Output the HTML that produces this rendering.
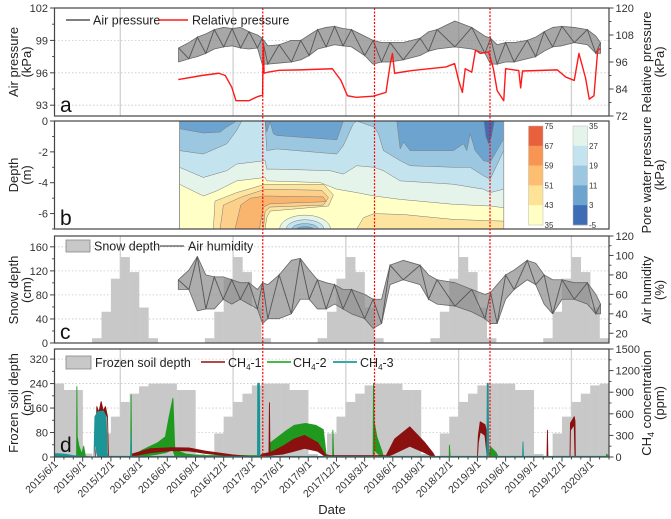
<!DOCTYPE html>
<html><head><meta charset="utf-8">
<style>
html,body{margin:0;padding:0;background:#fff;}
svg{display:block;font-family:"Liberation Sans",Arial,sans-serif;}
</style></head>
<body>
<svg id="chart" width="671" height="519" viewBox="0 0 671 519" xmlns="http://www.w3.org/2000/svg">
  <g id="layer-grid"></g>
  <g id="layer-data"></g>
  <g id="layer-axes"></g>

  <g font-size="12.5" fill="#222">
    <line x1="66" y1="20" x2="90" y2="20" stroke="#555" stroke-width="1.5"/>
    <text x="93" y="24.5">Air pressure</text>
    <line x1="158" y1="20" x2="188" y2="20" stroke="#ff1a1a" stroke-width="1.5"/>
    <text x="192" y="24.5">Relative pressure</text>
  </g>
  <g font-size="12.5" fill="#222">
    <rect x="66" y="240" width="24" height="12" fill="#c8c8c8" stroke="#888" stroke-width="0.8"/>
    <text x="94" y="250.5">Snow depth</text>
    <line x1="160" y1="246" x2="184" y2="246" stroke="#555" stroke-width="1.2"/>
    <text x="188" y="250.5">Air humidity</text>
  </g>
  <g font-size="12.5" fill="#222">
    <rect x="66" y="356" width="25" height="13" fill="#c8c8c8" stroke="#888" stroke-width="0.8"/>
    <text x="95" y="367">Frozen soil depth</text>
    <line x1="201" y1="362" x2="225" y2="362" stroke="#b04a4a" stroke-width="2"/>
    <text x="228" y="367">CH<tspan font-size="8" dy="3">4</tspan><tspan dy="-3">-1</tspan></text>
    <line x1="267" y1="362" x2="291" y2="362" stroke="#4cb84c" stroke-width="2"/>
    <text x="293" y="367">CH<tspan font-size="8" dy="3">4</tspan><tspan dy="-3">-2</tspan></text>
    <line x1="333" y1="362" x2="357" y2="362" stroke="#3aa8a8" stroke-width="2"/>
    <text x="360" y="367">CH<tspan font-size="8" dy="3">4</tspan><tspan dy="-3">-3</tspan></text>
  </g>

  <text x="60" y="112" font-size="21" fill="#111">a</text>
  <text x="60" y="225" font-size="21" fill="#111">b</text>
  <text x="60" y="339" font-size="21" fill="#111">c</text>
  <text x="60" y="452" font-size="21" fill="#111">d</text>

  <g font-size="13" fill="#222" text-anchor="middle">
    <text transform="translate(18,62) rotate(-90)">Air pressure</text>
    <text transform="translate(31,62) rotate(-90)">(kPa)</text>
    <text transform="translate(18,175) rotate(-90)">Depth</text>
    <text transform="translate(31,175) rotate(-90)">(m)</text>
    <text transform="translate(18,290) rotate(-90)">Snow depth</text>
    <text transform="translate(31,290) rotate(-90)">(cm)</text>
    <text transform="translate(18,403) rotate(-90)">Frozen soil depth</text>
    <text transform="translate(31,403) rotate(-90)">(cm)</text>
    <text transform="translate(651,62) rotate(-90)">Relative pressure</text>
    <text transform="translate(664,62) rotate(-90)">(kPa)</text>
    <text transform="translate(651,175) rotate(-90)">Pore water pressure</text>
    <text transform="translate(664,175) rotate(-90)">(kPa)</text>
    <text transform="translate(651,290) rotate(-90)">Air humidity</text>
    <text transform="translate(664,290) rotate(-90)">(%)</text>
    <text transform="translate(651,403) rotate(-90)">CH<tspan font-size="9" dy="3">4</tspan><tspan dy="-3"> concentration</tspan></text>
    <text transform="translate(664,403) rotate(-90)">(ppm)</text>
    <text x="332" y="514">Date</text>
  </g>
</svg>
<script>
const xTickLabels = ["2015/6/1","2015/9/1","2015/12/1","2016/3/1","2016/6/1","2016/9/1","2016/12/1","2017/3/1","2017/6/1","2017/9/1","2017/12/1","2018/3/1","2018/6/1","2018/9/1","2018/12/1","2019/3/1","2019/6/1","2019/9/1","2019/12/1","2020/3/1"];
const eventMonths = [22.16, 34.05, 46.34];
const yearStarts = [7, 19, 31, 43, 55];

const apT  = [13.2,14.3,15.2,16.1,17.0,18.0,18.9,19.8,20.7,21.6,22.1,22.7,23.9,25.2,26.2,27.1,28.0,28.9,29.8,30.7,31.6,33.0,33.9,34.8,35.7,37.1,38.9,39.8,40.7,42.6,44.4,45.8,46.4,47.1,48.0,48.9,50.3,51.2,52.1,53.0,54.0,55.3,56.7,57.6,58.1];
const apHi = [98.3,98.8,99.3,99.6,100.0,100.2,100.1,100.2,99.8,99.5,99.2,98.5,98.6,99.0,99.0,99.5,100.0,100.2,100.3,100.1,100.0,99.4,99.0,98.8,98.8,98.8,99.2,99.8,100.0,100.8,100.2,99.4,99.2,98.6,98.8,98.8,99.0,99.3,99.8,100.2,100.3,100.2,100.0,99.4,98.8];
const apLo = [97.0,97.3,97.5,97.8,98.2,98.4,98.5,98.3,98.2,98.3,96.8,96.8,96.9,97.0,97.2,97.6,98.2,98.4,98.6,98.5,98.4,97.6,96.8,97.0,97.0,97.2,97.6,98.0,98.2,98.4,98.2,97.8,96.8,96.8,97.0,97.0,97.3,97.5,98.0,98.4,98.5,98.8,98.6,97.8,97.8];

const rpT = [13.17,15.67,17.49,18.17,18.86,19.31,20.68,21.6,22.14,22.22,22.3,22.7,23.9,26.15,29.57,30.48,31.17,32.09,33.9,35.27,35.73,35.96,36.19,38.01,41.66,42.57,43.0,43.4,43.7,44.4,44.8,45.3,46.2,46.7,47.1,47.8,48.0,49.4,49.6,49.8,53.5,54.4,55.3,55.8,56.5,56.9,57.4,57.8,58.1];
const rpV = [88.2,90,91,90,84.8,78.8,78.8,80.6,81.3,104,91,91.5,92.3,92.5,93,87.8,81,80.3,80.8,82.5,95.3,99.8,91,92.2,93.8,95.3,87.8,82.5,93,91.5,101.3,99.8,100.5,93,83.3,78.8,93,92.2,84.5,92,92.5,89.3,87.8,99.8,89,79.5,81,101.3,102];

const ahT  = [13.17,14.3,15.2,16.1,17.0,17.95,18.86,19.77,20.68,21.6,22.14,22.7,23.9,25.2,26.15,27.1,27.98,28.9,29.8,30.7,31.6,33.0,33.9,34.8,35.7,37.1,38.9,39.8,40.7,42.6,44.4,45.8,46.4,47.1,48.0,48.9,50.3,51.2,52.1,53.0,54.0,55.3,56.7,57.6,58.1];
const ahHi = [75,85,99,80,78,78,75,72,72,65,72,70,80,95,97,85,75,72,70,65,65,60,55,55,90,95,90,80,75,72,65,60,62,70,80,85,95,92,80,75,75,72,72,60,50];
const ahLo = [65,65,43,45,45,55,50,55,50,45,30,35,35,40,55,55,45,45,50,45,40,35,25,30,70,75,70,55,50,48,42,35,30,30,55,65,75,70,50,40,55,55,50,40,40];

const snowDepth = [0,0,0,0,8,52,107,143,118,59,8,0, 0,0,0,0,8,52,107,143,118,59,8,0, 0,0,0,0,8,52,107,143,118,59,8,0, 0,0,0,0,8,52,107,143,118,59,8,0, 0,0,0,0,8,52,107,143,118,59,8];
const frozenDepth = [240,219,219,11,0,77,132,180,207,231,240,240, 240,219,219,10,0,77,132,180,207,234,240,240, 240,219,219,10,0,77,132,180,207,234,240,240, 240,219,219,10,0,77,132,180,207,234,240,240, 240,219,219,10,0,77,132,180,207,234,240];

const ch4_1T  = [0,4.38,4.5,4.73,4.96,5.19,5.42,5.64,5.74,8.1,8.2,10.2,12.5,14.3,16.1,18.9,21.1,21.68,21.72,21.78,22.1,22.82,22.87,22.93,23.4,24.3,25.5,26.6,28.0,28.9,35.3,36.2,37.8,39.4,40.3,40.5,45.0,45.1,45.3,45.8,46.05,46.1,52.4,52.45,52.5,54.85,54.9,55.3,55.38,55.42,59];
const ch4_1Hi = [0,0,700,620,770,640,700,560,0,0,40,116,130,125,80,30,5,5,1024,5,40,60,754,60,90,150,250,300,200,20,20,250,419,200,50,0,0,300,489,450,300,0,0,372,0,0,470,560,500,0,0];
const ch4_1Lo = [0,0,600,590,610,600,590,560,0,0,10,60,90,85,50,10,0,0,0,0,10,20,20,20,30,40,80,120,80,0,0,50,150,60,0,0,0,200,350,300,0,0,0,256,0,0,372,450,0,0,0];

const ch4_2T  = [0,2.35,2.38,2.42,2.6,2.9,3.1,3.3,8.1,8.15,8.2,9.3,11.0,11.8,12.2,12.6,12.8,14.0,15.5,22.8,23.0,24.5,25.5,26.7,27.8,28.6,28.9,29.6,29.62,29.7,33.9,33.94,34.0,34.3,34.8,35.0,42.0,42.02,42.1,46.2,46.4,47.0,47.2,58.7,58.75,59];
const ch4_2Hi = [0,0,978,280,150,40,150,0,0,862,0,93,200,280,560,815,100,40,20,20,200,350,440,466,440,380,40,0,373,0,0,1024,500,280,93,0,0,163,0,0,140,60,0,0,40,0];
const ch4_2Lo = [0,0,0,0,20,0,0,0,0,0,0,10,40,60,80,100,20,10,0,0,50,150,233,240,200,100,0,0,0,0,0,0,100,60,0,0,0,0,0,0,20,0,0,0,0,0];

const ch4_3T  = [0,1.0,2.0,3.0,4.2,4.3,4.6,5.2,5.5,5.6,5.7,8.1,8.15,8.2,21.6,21.62,21.8,21.85,46.0,46.05,46.15,46.2,49.8,49.85,49.9,59];
const ch4_3Hi = [47,40,20,10,0,560,629,640,560,50,10,10,326,10,10,1024,1024,10,10,1024,1024,10,10,210,10,10];
const ch4_3Lo = [10,10,5,0,0,200,0,0,0,0,0,0,0,0,0,0,0,0,0,0,0,0,0,0,0,0];

const iso35T = [13.3,15.84,17.26,19.39,22.41,22.58,28.26,30.04,32.16,34.0,36.78,42.45,46.35,47.8];
const iso35D = [-4.1,-4.86,-4.53,-3.88,-3.66,-3.88,-3.99,-4.42,-4.64,-4.86,-5.08,-5.4,-5.51,-5.62];
const iso27T = [13.3,15.84,18.33,19.39,22.41,22.58,23.65,29.32,30.74,32.16,34.0,35.0,36.78,42.45,45.64,46.35,47.8];
const iso27D = [-3.0,-3.66,-3.22,-2.79,-2.57,-3.12,-3.12,-3.22,-3.44,-2.9,-3.0,-3.22,-3.88,-4.1,-4.42,-4.64,-4.42];
const iso19T = [13.3,15.84,18.33,19.39,19.92,22.41,22.58,23.65,30.04,30.74,31.8,32.16,34.0,34.47,35.0,36.78,37.84,42.45,44.23,45.64,46.35,47.8];
const iso19D = [-1.92,-2.14,-1.48,-0.61,0,0,-1.92,-1.81,-2.14,-1.59,-0.17,0,-0.39,-0.83,-1.92,-2.57,-2.9,-3.0,-3.0,-3.55,-3.77,-1.92];
const iso11T = [13.3,15.84,17.62,18.33,19.39,22.41,22.58,22.94,23.29,23.65,30.04,30.74,36.42,36.78,37.13,37.84,42.45,43.51,43.87,44.23,44.76,45.64,46.35,47.07,47.8];
const iso11D = [-0.5,-0.78,-0.72,-0.39,0,0,-0.72,-0.07,-0.83,-0.94,-1.22,0,0,-1.81,-1.37,-1.92,-1.92,-1.48,-1.92,-0.83,-1.92,-2.57,-2.68,-1.92,-1.15];
const iso3T = [45.7,45.9,46.2,46.5,46.8];
const iso3D = [0,-1.0,-1.5,-1.0,0];
const warm43T = [16.9,17.08,19.39,22.41,28.61,29.68,29.15,22.94,22.58,22.41];
const warm43D = [-7,-5.19,-4.64,-4.1,-4.1,-4.79,-5.51,-5.84,-6.27,-7];
const warm51T = [17.62,17.97,19.92,22.41,28.44,29.15,28.61,22.94,22.41,22.23];
const warm51D = [-7,-5.45,-4.92,-4.42,-4.49,-4.97,-5.45,-5.58,-5.84,-7];
const warm59T = [19.21,19.82,20.81,22.41,28.61,28.9,22.94,22.23,21.8];
const warm59D = [-7,-5.45,-5.01,-4.86,-4.92,-5.23,-5.36,-5.58,-7];
const warmRT = [32.16,32.87,34.0,37.13,42.45,47.8,47.8];
const warmRD = [-7,-6.27,-6.0,-6.06,-6.38,-6.49,-7];
const blobCenter = [26.66, -7];
const blobRx = [2.7, 2.0, 1.4, 0.9];
const blobRy = [0.9, 0.6, 0.35, 0.15];

const NS = "http://www.w3.org/2000/svg";
const X0 = 54.5, X1 = 609, TMAX = 59;
const P = {a:[8,116], b:[121,229], c:[236,343], d:[349,457]};
const X = m => X0 + (X1 - X0) * m / TMAX;
const lin = (v, v0, v1, yb, yt) => yb - (v - v0) / (v1 - v0) * (yb - yt);
const yAP = v => lin(v, 92, 102, P.a[1], P.a[0]);
const yRP = v => lin(v, 72, 120, P.a[1], P.a[0]);
const yDep = v => lin(v, -7, 0, P.b[1], P.b[0]);
const ySnow = v => lin(v, 0, 178, P.c[1], P.c[0]);
const yHum = v => lin(v, 10, 120, P.c[1], P.c[0]);
const yFro = v => lin(v, 0, 353, P.d[1], P.d[0]);
const yCH4 = v => lin(v, 0, 1500, P.d[1], P.d[0]);

const gGrid = document.getElementById('layer-grid');
const gData = document.getElementById('layer-data');
const gAxes = document.getElementById('layer-axes');

function add(parent, tag, attrs, name) {
  const el = document.createElementNS(NS, tag);
  for (const k in attrs) el.setAttribute(k, attrs[k]);
  
  
  parent.appendChild(el);
  return el;
}
const f = n => n.toFixed(2);

const defs = document.createElementNS(NS, 'defs');
document.getElementById('chart').appendChild(defs);
for (const k of ['a','b','c','d']) {
  const cp = document.createElementNS(NS, 'clipPath');
  cp.setAttribute('id', 'clip-' + k);
  const r = document.createElementNS(NS, 'rect');
  r.setAttribute('x', X0); r.setAttribute('y', P[k][0]);
  r.setAttribute('width', X1 - X0); r.setAttribute('height', P[k][1] - P[k][0]);
  cp.appendChild(r); defs.appendChild(cp);
}
function panelGroup(k, name) {
  return add(gData, 'g', {'clip-path': 'url(#clip-' + k + ')'}, name);
}

for (const k of ['a','c','d']) {
  for (const m of yearStarts) {
    add(gGrid, 'line', {x1: X(m), x2: X(m), y1: P[k][0], y2: P[k][1], stroke: '#d0d0d0', 'stroke-width': 1.3}, 'year-gridline');
  }
}
function hgrid(vals, yf) {
  for (const v of vals) add(gGrid, 'line', {x1: X0, x2: X1, y1: yf(v), y2: yf(v), stroke: '#c8c8c8', 'stroke-width': 0.8, 'stroke-dasharray': '1.5,2'}, 'h-gridline');
}
hgrid([93,96,99], yAP);
hgrid([40,80,120,160], ySnow);
hgrid([80,160,240,320], yFro);

function bandPath(T, H, L, yf) {
  let d = 'M' + T.map((t,i) => f(X(t)) + ',' + f(yf(H[i]))).join('L');
  for (let i = T.length - 1; i >= 0; i--) d += 'L' + f(X(T[i])) + ',' + f(yf(L[i]));
  return d + 'Z';
}
function zigPath(T, H, L, yf) {
  return 'M' + T.map((t,i) => f(X(t)) + ',' + f(yf(i % 2 ? L[i] : H[i]))).join('L');
}
function linePath(T, V, yf) {
  return 'M' + T.map((t,i) => f(X(t)) + ',' + f(yf(V[i]))).join('L');
}
function topFillPath(T, D) {
  let d = 'M' + f(X(T[0])) + ',' + f(yDep(0));
  T.forEach((t,i) => d += 'L' + f(X(t)) + ',' + f(yDep(D[i])));
  d += 'L' + f(X(T[T.length-1])) + ',' + f(yDep(0)) + 'Z';
  return d;
}
function polyPath(T, D) {
  return 'M' + T.map((t,i) => f(X(t)) + ',' + f(yDep(D[i]))).join('L') + 'Z';
}

// panel a
const ga = panelGroup('a', 'panel-a-series');
add(ga, 'path', {d: bandPath(apT, apHi, apLo, yAP), fill: '#8a8a8a', 'fill-opacity': 0.75, stroke: '#666', 'stroke-width': 0.8, 'stroke-linejoin': 'round'}, 'air-pressure-band');
add(ga, 'path', {d: zigPath(apT, apHi, apLo, yAP), fill: 'none', stroke: '#555', 'stroke-width': 0.9}, 'air-pressure-line');
add(ga, 'path', {d: linePath(rpT, rpV, yRP), fill: 'none', stroke: '#ff1a1a', 'stroke-width': 1.4, 'stroke-linejoin': 'round'}, 'relative-pressure-line');

// panel b
const gb = panelGroup('b', 'panel-b-contour');
const bT0 = 13.3, bT1 = 47.8;
add(gb, 'rect', {x: X(bT0), y: P.b[0], width: X(bT1) - X(bT0), height: P.b[1] - P.b[0], fill: '#ffffc6'}, 'contour-level-35-43');
const cs = {stroke: '#7a7a7a', 'stroke-width': 0.5};
add(gb, 'path', Object.assign({d: topFillPath(iso35T, iso35D), fill: '#e5f4ea'}, cs), 'contour-level-27-35');
add(gb, 'path', Object.assign({d: topFillPath(iso27T, iso27D), fill: '#c3e3ef'}, cs), 'contour-level-19-27');
add(gb, 'path', Object.assign({d: topFillPath(iso19T, iso19D), fill: '#9cc7e0'}, cs), 'contour-level-11-19');
add(gb, 'path', Object.assign({d: topFillPath(iso11T, iso11D), fill: '#6ca3cf'}, cs), 'contour-level-3-11');
add(gb, 'path', Object.assign({d: polyPath(iso3T, iso3D), fill: '#3f6db5'}, cs), 'contour-level-below-3');
add(gb, 'path', Object.assign({d: polyPath(warm43T, warm43D), fill: '#fde5a0'}, cs), 'contour-level-43-51');
add(gb, 'path', Object.assign({d: polyPath(warm51T, warm51D), fill: '#fcd08a'}, cs), 'contour-level-51-59');
add(gb, 'path', Object.assign({d: polyPath(warm59T, warm59D), fill: '#f9b56e'}, cs), 'contour-level-59-67');
add(gb, 'path', Object.assign({d: polyPath(warmRT, warmRD), fill: '#fde5a0'}, cs), 'contour-level-43-51-right');
const blobFill = ['#e5f4ea','#c3e3ef','#9cc7e0','#6ca3cf'];
blobRx.forEach((rx, i) => {
  const cx = X(blobCenter[0]), cy = yDep(blobCenter[1]);
  const rxp = X(blobCenter[0] + rx) - cx, ryp = cy - yDep(blobCenter[1] + blobRy[i]);
  add(gb, 'ellipse', Object.assign({cx: cx, cy: cy, rx: rxp, ry: ryp, fill: blobFill[i]}, cs), 'contour-blob-' + i);
});
add(gb, 'line', {x1: X(bT0), x2: X(bT0), y1: P.b[0], y2: P.b[1], stroke: '#999', 'stroke-width': 1}, 'contour-left-edge');
add(gb, 'line', {x1: X(bT1), x2: X(bT1), y1: P.b[0], y2: P.b[1], stroke: '#999', 'stroke-width': 0.8}, 'contour-right-edge');

const warmCols = ['#e8603c','#f89552','#fdbe72','#fee296','#ffffc4'];
const warmLabs = ['75','67','59','51','43','35'];
const coolCols = ['#e5f4ea','#c3e3ef','#9cc7e0','#6ca3cf','#3f6db5'];
const coolLabs = ['35','27','19','11','3','-5'];
function colorbar(x, cols, labs, name) {
  const g = add(gAxes, 'g', {}, name);
  const y0 = 126, h = 99 / cols.length;
  cols.forEach((c, i) => add(g, 'rect', {x: x, y: y0 + i*h, width: 14.5, height: h + 0.3, fill: c}, name + '-swatch'));
  add(g, 'rect', {x: x, y: y0, width: 14.5, height: 99, fill: 'none', stroke: '#bbb', 'stroke-width': 0.5}, name + '-frame');
  labs.forEach((l, i) => {
    const t = add(g, 'text', {x: x + 16, y: y0 + i*h + 3, 'font-size': 8, fill: '#333'}, name + '-label');
    t.textContent = l;
  });
}
colorbar(528.5, warmCols, warmLabs, 'colorbar-positive');
colorbar(573, coolCols, coolLabs, 'colorbar-low');

// panel c
const gc = panelGroup('c', 'panel-c-series');
snowDepth.forEach((v, i) => {
  if (v > 0) add(gc, 'rect', {x: X(i), y: ySnow(v), width: X(i+1) - X(i) + 0.2, height: ySnow(0) - ySnow(v), fill: '#c8c8c8'}, 'snow-depth-bar');
});
add(gc, 'path', {d: bandPath(ahT, ahHi, ahLo, yHum), fill: '#8a8a8a', 'fill-opacity': 0.7, stroke: '#666', 'stroke-width': 0.8, 'stroke-linejoin': 'round'}, 'air-humidity-band');
add(gc, 'path', {d: zigPath(ahT, ahHi, ahLo, yHum), fill: 'none', stroke: '#555', 'stroke-width': 0.9}, 'air-humidity-line');

// panel d
const gd = panelGroup('d', 'panel-d-series');
frozenDepth.forEach((v, i) => {
  if (v > 0) add(gd, 'rect', {x: X(i), y: yFro(v), width: X(i+1) - X(i) + 0.2, height: yFro(0) - yFro(v), fill: '#c8c8c8'}, 'frozen-soil-bar');
});
add(gd, 'path', {d: bandPath(ch4_2T, ch4_2Hi, ch4_2Lo, yCH4), fill: '#1f9a1f', stroke: '#1f9a1f', 'stroke-width': 0.9, 'stroke-linejoin': 'round'}, 'ch4-2-line');
add(gd, 'path', {d: bandPath(ch4_1T, ch4_1Hi, ch4_1Lo, yCH4), fill: '#8b1010', stroke: '#8b1010', 'stroke-width': 0.9, 'stroke-linejoin': 'round'}, 'ch4-1-line');
add(gd, 'path', {d: bandPath(ch4_3T, ch4_3Hi, ch4_3Lo, yCH4), fill: '#1b9595', stroke: '#1b9595', 'stroke-width': 0.9, 'stroke-linejoin': 'round'}, 'ch4-3-line');

// frames & axes
for (const k of ['a','b','c','d']) {
  add(gAxes, 'rect', {x: X0, y: P[k][0], width: X1 - X0, height: P[k][1] - P[k][0], fill: 'none', stroke: '#444', 'stroke-width': 1.2}, 'panel-frame-' + k);
}
function yAxis(side, yf, majors, minors, name) {
  const g = add(gAxes, 'g', {}, name);
  const x = side === 'L' ? X0 : X1;
  const dir = side === 'L' ? -1 : 1;
  minors.forEach(v => add(g, 'line', {x1: x, x2: x + dir*2.5, y1: yf(v), y2: yf(v), stroke: '#444', 'stroke-width': 0.9}, name + '-minor-tick'));
  majors.forEach(v => {
    add(g, 'line', {x1: x, x2: x + dir*4.5, y1: yf(v), y2: yf(v), stroke: '#444', 'stroke-width': 1}, name + '-tick');
    const t = add(g, 'text', {x: x + dir*6.5, y: yf(v) + 4, 'font-size': 11, fill: '#333', 'text-anchor': side === 'L' ? 'end' : 'start'}, name + '-tick-label');
    t.textContent = v;
  });
}
yAxis('L', yAP, [93,96,99,102], [94.5,97.5,100.5], 'y-axis-air-pressure');
yAxis('R', yRP, [72,84,96,108,120], [78,90,102,114], 'y2-axis-relative-pressure');
yAxis('L', yDep, [0,-2,-4,-6], [-1,-3,-5,-7], 'y-axis-depth');
yAxis('L', ySnow, [0,40,80,120,160], [20,60,100,140], 'y-axis-snow-depth');
yAxis('R', yHum, [20,40,60,80,100,120], [30,50,70,90,110], 'y2-axis-air-humidity');
yAxis('L', yFro, [0,80,160,240,320], [40,120,200,280], 'y-axis-frozen-soil');
yAxis('R', yCH4, [0,300,600,900,1200,1500], [150,450,750,1050,1350], 'y2-axis-ch4');

const gx = add(gAxes, 'g', {}, 'x-axis');
for (let m = 0; m <= TMAX; m++) {
  const major = m % 3 === 0;
  add(gx, 'line', {x1: X(m), x2: X(m), y1: P.d[1], y2: P.d[1] + (major ? 4.5 : 2.5), stroke: '#444', 'stroke-width': 1}, major ? 'x-tick' : 'x-minor-tick');
}
xTickLabels.forEach((lab, i) => {
  const x = X(i * 3);
  const t = add(gx, 'text', {transform: 'translate(' + f(x + 4) + ',' + (P.d[1] + 8) + ') rotate(-45)', 'font-size': 10.5, fill: '#333', 'text-anchor': 'end'}, 'x-tick-label');
  t.textContent = lab;
});

eventMonths.forEach(m => {
  add(gAxes, 'line', {x1: X(m), x2: X(m), y1: P.a[0], y2: P.d[1], stroke: '#ff0000', 'stroke-width': 1.2, 'stroke-dasharray': '2,1.5'}, 'event-marker-line');
});
</script>
</body></html>
